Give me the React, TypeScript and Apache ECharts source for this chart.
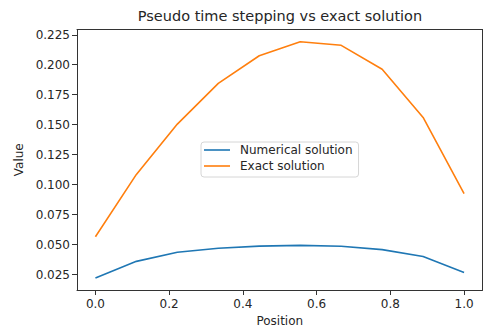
import React, { useEffect, useRef } from "react";
import * as echarts from "echarts";

const positions = [0, 0.1111, 0.2222, 0.3333, 0.4444, 0.5556, 0.6667, 0.7778, 0.8889, 1.0];
const numerical = [0.0222, 0.036, 0.0436, 0.0469, 0.0487, 0.0493, 0.0486, 0.0458, 0.0400, 0.0267];
const exact = [0.0565, 0.1085, 0.1505, 0.1845, 0.2075, 0.2192, 0.2162, 0.1962, 0.1560, 0.0925];
const xTicks = [0, 0.2, 0.4, 0.6, 0.8, 1.0];
const yTicks = [0.025, 0.05, 0.075, 0.1, 0.125, 0.15, 0.175, 0.2, 0.225];

const FONT = "DejaVu Sans";
const TXT = "#262626";
const AX = "#333333";

export default function App() {
  const ref = useRef<HTMLDivElement>(null);
  useEffect(() => {
    if (!ref.current) return;
    const chart = echarts.init(ref.current, undefined, { renderer: "svg" });
    const frameAxis = {
      type: "value",
      axisLine: { show: true, onZero: false, lineStyle: { color: AX, width: 1 } },
      axisTick: { show: false },
      axisLabel: { show: false },
      splitLine: { show: false },
    };
    chart.setOption({
      animation: false,
      backgroundColor: "#ffffff",
      textStyle: { fontFamily: FONT },
      title: {
        text: "Pseudo time stepping vs exact solution",
        left: 280,
        top: 8,
        padding: 0,
        textAlign: "center",
        textStyle: { fontFamily: FONT, fontSize: 14.5, fontWeight: "normal", color: TXT },
      },
      grid: {
        left: 77,
        right: 1.5,
        top: 29.5,
        bottom: 39,
        containLabel: false,
      },
      legend: {
        orient: "vertical",
        left: 201,
        top: 142,
        padding: [2, 6, 5, 3],
        itemGap: 4,
        itemWidth: 26,
        itemHeight: 14,
        backgroundColor: "#fff",
        borderColor: "#d6d6d6",
        borderWidth: 1,
        borderRadius: 3,
        textStyle: { fontFamily: FONT, fontSize: 12, color: TXT, padding: [0, 0, 0, 5] },
        data: [
          { name: "Numerical solution", icon: "path://M0,0 L26,0 L26,1.6 L0,1.6 Z" },
          { name: "Exact solution", icon: "path://M0,0 L26,0 L26,1.6 L0,1.6 Z" },
        ],
      },
      xAxis: [
        {
          type: "value",
          min: -0.05,
          max: 1.05,
          name: "Position",
          nameLocation: "middle",
          nameGap: 25,
          nameTextStyle: { fontFamily: FONT, fontSize: 12, color: TXT },
          axisLine: { show: true, onZero: false, lineStyle: { color: AX, width: 1 } },
          axisTick: { show: true, length: 5, lineStyle: { color: AX, width: 1 }, customValues: xTicks },
          axisLabel: {
            fontFamily: FONT,
            fontSize: 12,
            color: TXT,
            margin: 8,
            customValues: xTicks,
            formatter: (v: number) => v.toFixed(1),
          },
          splitLine: { show: false },
        },
        { ...frameAxis, position: "top", min: -0.05, max: 1.05 },
      ],
      yAxis: [
        {
          type: "value",
          min: 0.0121,
          max: 0.2294,
          name: "Value",
          nameLocation: "middle",
          nameGap: 49,
          nameTextStyle: { fontFamily: FONT, fontSize: 12, color: TXT },
          axisLine: { show: true, onZero: false, lineStyle: { color: AX, width: 1 } },
          axisTick: { show: true, length: 5, lineStyle: { color: AX, width: 1 }, customValues: yTicks },
          axisLabel: {
            fontFamily: FONT,
            fontSize: 12,
            color: TXT,
            margin: 7,
            customValues: yTicks,
            formatter: (v: number) => v.toFixed(3),
          },
          splitLine: { show: false },
        },
        { ...frameAxis, position: "right", min: 0.0121, max: 0.2294 },
      ],
      series: [
        {
          name: "Numerical solution",
          type: "line",
          symbol: "none",
          data: positions.map((x, i) => [x, numerical[i]]),
          lineStyle: { color: "#1f77b4", width: 1.6 },
          itemStyle: { color: "#1f77b4" },
        },
        {
          name: "Exact solution",
          type: "line",
          symbol: "none",
          data: positions.map((x, i) => [x, exact[i]]),
          lineStyle: { color: "#ff7f0e", width: 1.6 },
          itemStyle: { color: "#ff7f0e" },
        },
      ],
    });
    return () => chart.dispose();
  }, []);
  return (
    <div
      ref={ref}
      style={{ position: "absolute", left: 0, top: 0, width: 484, height: 332 }}
    />
  );
}
